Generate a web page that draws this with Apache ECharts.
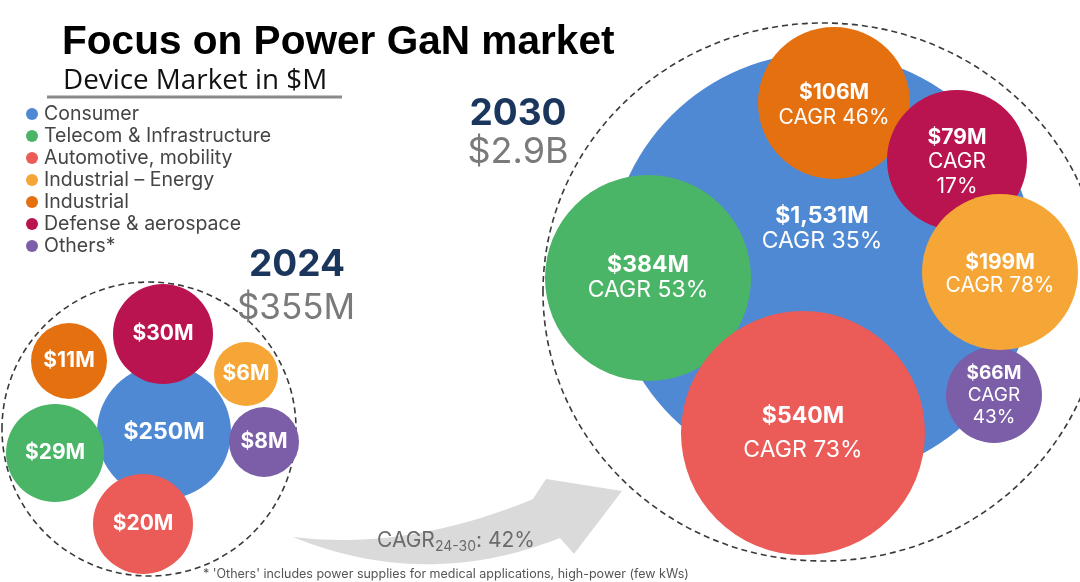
<!DOCTYPE html>
<html>
<head>
<meta charset="utf-8">
<script src="https://cdn.jsdelivr.net/npm/echarts@6/dist/echarts.min.js"></script>
<style>
  html, body { margin: 0; padding: 0; background: #fff; }
  #main { width: 1080px; height: 582px; }
</style>
</head>
<body>
<div id="main"></div>
<script>
// device market in $M, 2024 vs 2030
var categories = ['Consumer', 'Telecom & Infrastructure', 'Automotive, mobility',
                  'Industrial – Energy', 'Industrial', 'Defense & aerospace', 'Others*'];
var market2024 = [250, 29, 20, 6, 11, 30, 8];
var market2030 = [1531, 384, 540, 199, 106, 79, 66];
var cagr2030 = [35, 53, 73, 78, 46, 17, 43];
var years = ['2024', '2030'];
var totals = ['$355M', '$2.9B'];
var cagrTotal = 42;

var colors = ['#4f89d4', '#4bb567', '#eb5b57', '#f5a636', '#e5700f', '#b91450', '#7b5ea7'];

// bubble layout (pixel grid): [cx, cy, r]
var layout2024 = [[164, 432, 67], [55, 453, 49], [143, 524, 50], [246, 374, 32],
                  [69, 361, 38], [163, 334, 50], [264, 442, 35]];
var layout2030 = [[822, 266, 213], [648, 278, 103], [803, 433, 122], [1000, 272, 78],
                  [834, 103, 76], [957, 160, 70], [994, 395, 48]];
// label style per 2030 bubble: [fontSize, lineHeight, lines, offsetY]
var label2030 = [[23, 25, 2, -37], [23, 25, 2, 0], [23, 34, 2, 0], [21, 23, 2, 2],
                 [21, 25, 2, 2], [21, 24.5, 3, 2], [19, 22, 3, 0]];
var font = 'Inter, "Noto Sans", sans-serif';

var myChart = echarts.init(document.getElementById('main'), null, { renderer: 'canvas' });

function money(v) {
    return '$' + v.toLocaleString('en-US') + 'M';
}

// quadratic curve -> points, for the grey arrow
function quad(p0, c, p2, n) {
    var pts = [];
    for (var k = 0; k <= n; k++) {
        var t = k / n, u = 1 - t;
        pts.push([u * u * p0[0] + 2 * u * t * c[0] + t * t * p2[0],
                  u * u * p0[1] + 2 * u * t * c[1] + t * t * p2[1]]);
    }
    return pts;
}
var arrowPts = quad([293, 537], [425, 591], [560, 538], 30)
    .concat([[574, 554], [622, 491], [546, 479]])
    .concat(quad([533, 499], [407, 551], [293, 537], 30));

var series = categories.map(function (name, i) {
    var a = layout2024[i], b = layout2030[i], ls = label2030[i];
    var sep = ls[2] === 3 ? '\n{c|CAGR}\n{c|' + cagr2030[i] + '%}' : '\n{c|CAGR ' + cagr2030[i] + '%}';
    return {
        name: name,
        type: 'scatter',
        z: name === 'Industrial – Energy' ? 3 : 2,
        symbol: 'circle',
        itemStyle: { color: colors[i], opacity: 1 },
        emphasis: { disabled: true },
        label: { show: true, position: 'inside', color: '#fff', fontFamily: font },
        data: [
            {
                value: [a[0], a[1]],
                symbolSize: a[2] * 2,
                label: {
                    formatter: '{v|' + money(market2024[i]) + '}',
                    rich: { v: { fontSize: i === 0 ? 23 : 21, fontWeight: 'bold', color: '#fff', fontFamily: font } }
                }
            },
            {
                value: [b[0], b[1]],
                symbolSize: b[2] * 2,
                label: {
                    offset: [0, ls[3]],
                    formatter: '{v|' + money(market2030[i]) + '}' + sep,
                    rich: {
                        v: { fontSize: ls[0], lineHeight: ls[1], fontWeight: 'bold', color: '#fff', fontFamily: font, align: 'center' },
                        c: { fontSize: ls[0], lineHeight: ls[1], color: '#fff', fontFamily: font, align: 'center' }
                    }
                }
            }
        ]
    };
});

option = {
    backgroundColor: '#fff',
    animation: false,
    title: [
        {
            text: 'Focus on Power GaN market',
            left: 62, top: 22, padding: 0,
            textStyle: { fontFamily: '"Liberation Sans", Arial, sans-serif', fontWeight: 'bold',
                         fontSize: 40.6, lineHeight: 41, color: '#000' }
        },
        {
            text: 'Device Market in $M',
            left: 63, top: 67, padding: 0,
            textStyle: { fontFamily: '"Open Sans", sans-serif', fontWeight: 'normal',
                         fontSize: 27.8, lineHeight: 28, color: '#111' }
        }
    ],
    legend: {
        orient: 'vertical',
        left: 26, top: 104,
        padding: 0,
        itemWidth: 14, itemHeight: 12,
        itemGap: 2,
        icon: 'circle',
        selectedMode: false,
        data: categories,
        textStyle: { fontFamily: font, fontSize: 19.5, color: '#454545' }
    },
    grid: { left: 0, right: 0, top: 0, bottom: 0 },
    xAxis: { type: 'value', min: 0, max: 1080, show: false },
    yAxis: { type: 'value', min: 0, max: 582, inverse: true, show: false },
    graphic: [
        { type: 'line', z: 1, shape: { x1: 47, y1: 97, x2: 342, y2: 97 },
          style: { stroke: '#8a8a8a', lineWidth: 3 } },
        { type: 'ellipse', z: 1, shape: { cx: 149, cy: 429, rx: 147, ry: 147 },
          style: { fill: 'none', stroke: '#3a3a3a', lineWidth: 1.6, lineDash: [6, 4] } },
        { type: 'ellipse', z: 1, shape: { cx: 823, cy: 292, rx: 280, ry: 269 },
          style: { fill: 'none', stroke: '#3a3a3a', lineWidth: 1.6, lineDash: [6, 4] } },
        { type: 'polygon', z: 1, shape: { points: arrowPts },
          style: { fill: '#dadada' } },
        { type: 'text', z: 5, x: 377, y: 541,
          style: {
              text: '{a|CAGR}{b|24-30}{a|: ' + cagrTotal + '%}',
              verticalAlign: 'middle',
              rich: {
                  a: { fontFamily: font, fontSize: 21, fill: '#6b6b6b' },
                  b: { fontFamily: font, fontSize: 14, fill: '#6b6b6b', padding: [12, 0, 0, 0] }
              }
          } },
        { type: 'text', z: 5, x: 297, y: 265,
          style: { text: years[0], fontFamily: font, fontSize: 37, fontWeight: 'bold', fill: '#1b365d',
                   textAlign: 'center', textVerticalAlign: 'middle' } },
        { type: 'text', z: 5, x: 296, y: 308,
          style: { text: totals[0], fontFamily: font, fontSize: 35, fill: '#7a7a7a',
                   textAlign: 'center', textVerticalAlign: 'middle' } },
        { type: 'text', z: 5, x: 518, y: 114,
          style: { text: years[1], fontFamily: font, fontSize: 37, fontWeight: 'bold', fill: '#1b365d',
                   textAlign: 'center', textVerticalAlign: 'middle' } },
        { type: 'text', z: 5, x: 518, y: 152,
          style: { text: totals[1], fontFamily: font, fontSize: 36, fill: '#7a7a7a',
                   textAlign: 'center', textVerticalAlign: 'middle' } },
        { type: 'text', z: 5, x: 203, y: 574,
          style: { text: "* 'Others' includes power supplies for medical applications, high-power (few kWs)",
                   fontFamily: font, fontSize: 12.5, fill: '#555', textVerticalAlign: 'middle' } }
    ],
    series: series
};

myChart.setOption(option);
</script>
</body>
</html>
